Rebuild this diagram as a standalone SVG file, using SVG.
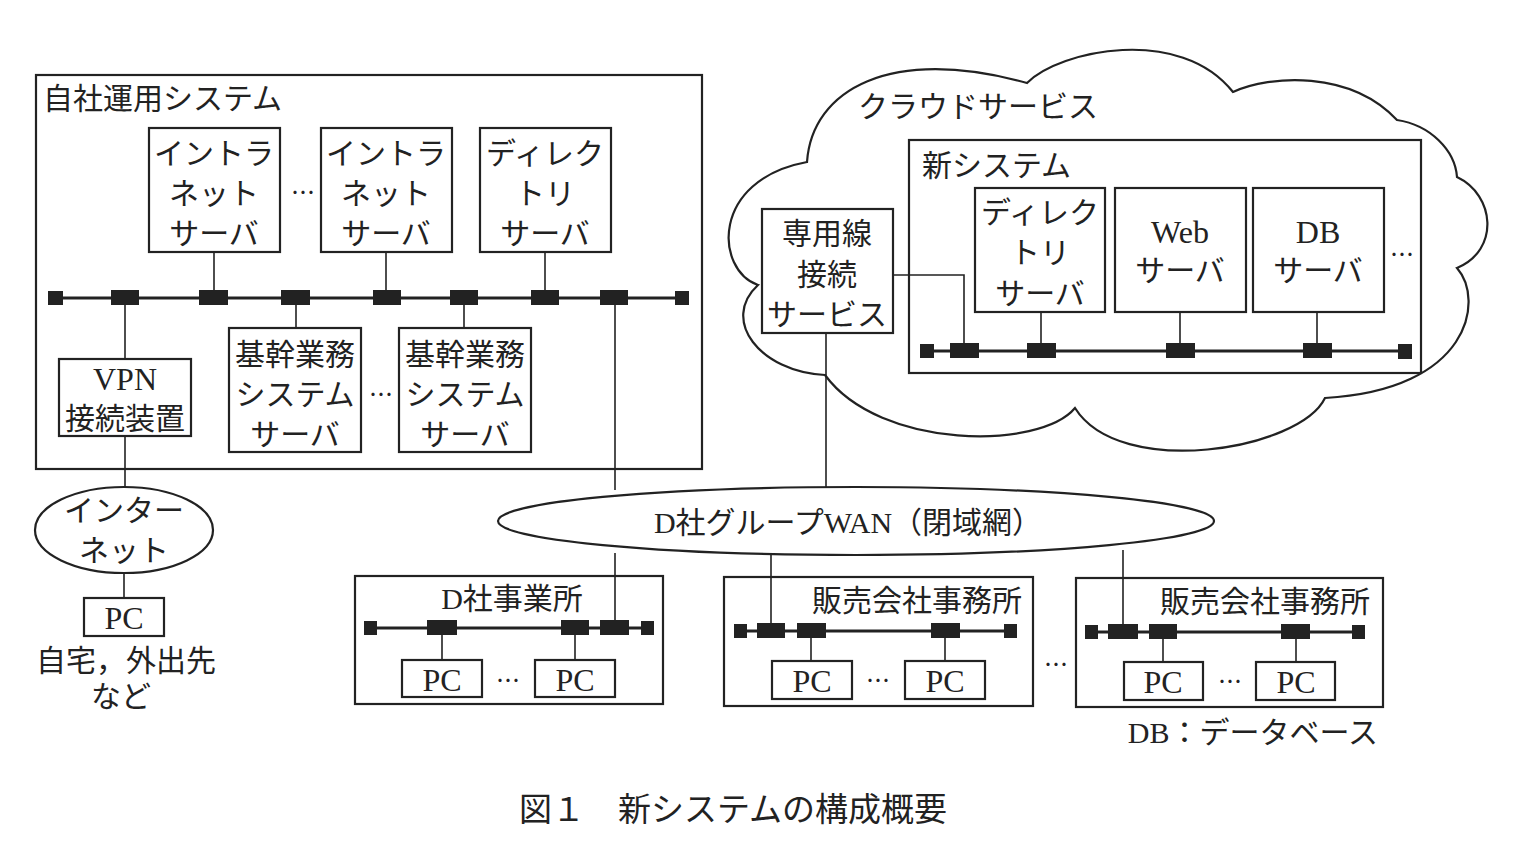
<svg xmlns="http://www.w3.org/2000/svg" width="1514" height="858" viewBox="0 0 1514 858">
<style>
text{font-family:"Liberation Serif","Noto Sans CJK JP",serif;fill:#222;font-size:30px;dominant-baseline:central}
.c{text-anchor:middle}
.lat{font-size:32px}
.box{fill:#fff;stroke:#222;stroke-width:2.2}
.frame{fill:none;stroke:#222;stroke-width:2.2}
.ln{fill:none;stroke:#222;stroke-width:1.6}
.bus{fill:none;stroke:#222;stroke-width:3}
.tap{fill:#222}
.dots{font-family:"Noto Sans CJK JP",sans-serif;font-size:24px}
</style>
<rect width="1514" height="858" fill="#fff"/>

<!-- cloud -->
<g id="cloud">
<path class="frame" d="M807,162 C812,90 890,45 1027,83 C1060,50 1180,25 1233,92 C1270,75 1350,70 1397,120 C1430,125 1455,150 1457,177 C1495,195 1500,250 1457,268 C1485,300 1470,390 1325,398 C1300,450 1120,480 1075,408 C1040,450 880,450 825,375 C760,372 720,320 758,285 C715,270 710,180 807,162 Z"/>
<text x="858" y="106">クラウドサービス</text>
</g>

<!-- frames -->
<g id="own-system">
<rect class="frame" x="36" y="75" width="666" height="394"/>
<text x="43" y="98">自社運用システム</text>
</g>
<g id="new-system">
<rect class="frame" x="909" y="140" width="512" height="233"/>
<text x="922" y="165">新システム</text>
</g>

<!-- connectors -->
<g id="connectors">
<path class="bus" d="M56,298 H682"/>
<path class="ln" d="M214,252 V298 M386,252 V298 M545,252 V298 M296,298 V328 M464,298 V328 M125,298 V359 M125,436 V487 M124,573 V598 M615,298 V490 M615,553 V628"/>
<path class="ln" d="M893,275 H964 V351 M1041,312 V351 M1180,312 V351 M1317,313 V351 M826,333 V489"/>
<path class="bus" d="M927,351 H1405"/>
<path class="bus" d="M370,628 H648 M741,631 H1010 M1091,632 H1359"/>
<path class="ln" d="M442,628 V659 M575,628 V659 M811,631 V660 M945,631 V660 M1163,632 V661 M1296,632 V661 M771,555 V631 M1123,550 V632"/>
<g class="tap">
<rect x="48" y="291" width="15" height="14"/><rect x="111" y="290" width="28" height="15"/><rect x="199" y="290" width="29" height="15"/><rect x="281" y="290" width="29" height="15"/><rect x="373" y="290" width="28" height="15"/><rect x="450" y="290" width="28" height="15"/><rect x="531" y="290" width="28" height="15"/><rect x="600" y="290" width="28" height="15"/><rect x="675" y="291" width="14" height="14"/>
<rect x="920" y="344" width="14" height="14"/><rect x="950" y="343" width="29" height="15"/><rect x="1027" y="343" width="29" height="15"/><rect x="1166" y="343" width="29" height="15"/><rect x="1303" y="343" width="29" height="15"/><rect x="1398" y="344" width="14" height="15"/>
<rect x="364" y="621" width="13" height="14"/><rect x="427" y="620" width="30" height="15"/><rect x="561" y="620" width="28" height="15"/><rect x="600" y="620" width="29" height="15"/><rect x="641" y="621" width="13" height="14"/>
<rect x="734" y="624" width="13" height="14"/><rect x="757" y="623" width="28" height="15"/><rect x="797" y="623" width="29" height="15"/><rect x="931" y="623" width="29" height="15"/><rect x="1004" y="624" width="13" height="14"/>
<rect x="1085" y="625" width="13" height="14"/><rect x="1108" y="624" width="30" height="15"/><rect x="1149" y="624" width="28" height="15"/><rect x="1281" y="624" width="29" height="15"/><rect x="1352" y="625" width="13" height="14"/>
</g>
</g>

<!-- own system nodes -->
<g id="intranet1"><rect class="box" x="149" y="128" width="131" height="124"/><text class="c" x="214" y="153">イントラ</text><text class="c" x="214" y="193">ネット</text><text class="c" x="214" y="233">サーバ</text></g>
<text class="c dots" x="303" y="190">…</text>
<g id="intranet2"><rect class="box" x="321" y="128" width="131" height="124"/><text class="c" x="386" y="153">イントラ</text><text class="c" x="386" y="193">ネット</text><text class="c" x="386" y="233">サーバ</text></g>
<g id="directory1"><rect class="box" x="480" y="128" width="131" height="124"/><text class="c" x="545" y="153">ディレク</text><text class="c" x="545" y="193">トリ</text><text class="c" x="545" y="233">サーバ</text></g>
<g id="core1"><rect class="box" x="229" y="328" width="132" height="124"/><text class="c" x="295" y="354">基幹業務</text><text class="c" x="295" y="394">システム</text><text class="c" x="295" y="434">サーバ</text></g>
<text class="c dots" x="381" y="392">…</text>
<g id="core2"><rect class="box" x="399" y="328" width="132" height="124"/><text class="c" x="465" y="354">基幹業務</text><text class="c" x="465" y="394">システム</text><text class="c" x="465" y="434">サーバ</text></g>
<g id="vpn"><rect class="box" x="59" y="359" width="132" height="77"/><text class="c lat" x="125" y="379">VPN</text><text class="c" x="125" y="418">接続装置</text></g>

<!-- internet -->
<g id="internet"><ellipse class="box" cx="124" cy="530" rx="89" ry="43"/><text class="c" x="124" y="510">インター</text><text class="c" x="124" y="550">ネット</text></g>
<g id="pc-home"><rect class="box" x="84" y="598" width="80" height="38"/><text class="c lat" x="124" y="618">PC</text><text class="c" x="126" y="660">自宅，外出先</text><text class="c" x="121" y="696">など</text></g>

<!-- cloud nodes -->
<g id="leased-line"><rect class="box" x="762" y="209" width="131" height="124"/><text class="c" x="827" y="233">専用線</text><text class="c" x="827" y="274">接続</text><text class="c" x="827" y="314">サービス</text></g>
<g id="directory2"><rect class="box" x="975" y="188" width="130" height="124"/><text class="c" x="1040" y="212">ディレク</text><text class="c" x="1040" y="252">トリ</text><text class="c" x="1040" y="293">サーバ</text></g>
<g id="web"><rect class="box" x="1115" y="188" width="131" height="124"/><text class="c lat" x="1180" y="232">Web</text><text class="c" x="1180" y="270">サーバ</text></g>
<g id="db"><rect class="box" x="1253" y="188" width="131" height="124"/><text class="c lat" x="1318" y="232">DB</text><text class="c" x="1318" y="270">サーバ</text></g>
<text class="c dots" x="1402" y="252">…</text>

<!-- WAN -->
<g id="wan"><ellipse class="box" cx="856" cy="521" rx="358" ry="34"/><text class="c" x="848" y="522">D社グループWAN（閉域網）</text></g>

<!-- offices -->
<g id="office-d">
<rect class="frame" x="355" y="576" width="308" height="128"/>
<text class="c" x="512" y="598">D社事業所</text>
<rect class="box" x="402" y="660" width="80" height="37"/><text class="c lat" x="442" y="680">PC</text>
<text class="c dots" x="508" y="678">…</text>
<rect class="box" x="535" y="660" width="80" height="37"/><text class="c lat" x="575" y="680">PC</text>
</g>
<g id="office-sales1">
<rect class="frame" x="724" y="577" width="309" height="129"/>
<text class="c" x="917" y="600">販売会社事務所</text>
<rect class="box" x="772" y="661" width="80" height="38"/><text class="c lat" x="812" y="681">PC</text>
<text class="c dots" x="878" y="678">…</text>
<rect class="box" x="905" y="661" width="80" height="38"/><text class="c lat" x="945" y="681">PC</text>
</g>
<text class="c dots" x="1056" y="662">…</text>
<g id="office-sales2">
<rect class="frame" x="1076" y="578" width="307" height="129"/>
<text class="c" x="1265" y="601">販売会社事務所</text>
<rect class="box" x="1124" y="662" width="79" height="38"/><text class="c lat" x="1163" y="682">PC</text>
<text class="c dots" x="1230" y="679">…</text>
<rect class="box" x="1256" y="662" width="79" height="38"/><text class="c lat" x="1296" y="682">PC</text>
</g>

<text x="1378" y="732" style="text-anchor:end">DB：データベース</text>
<text class="c" x="733" y="810" style="font-size:33px">図１　新システムの構成概要</text>
</svg>
